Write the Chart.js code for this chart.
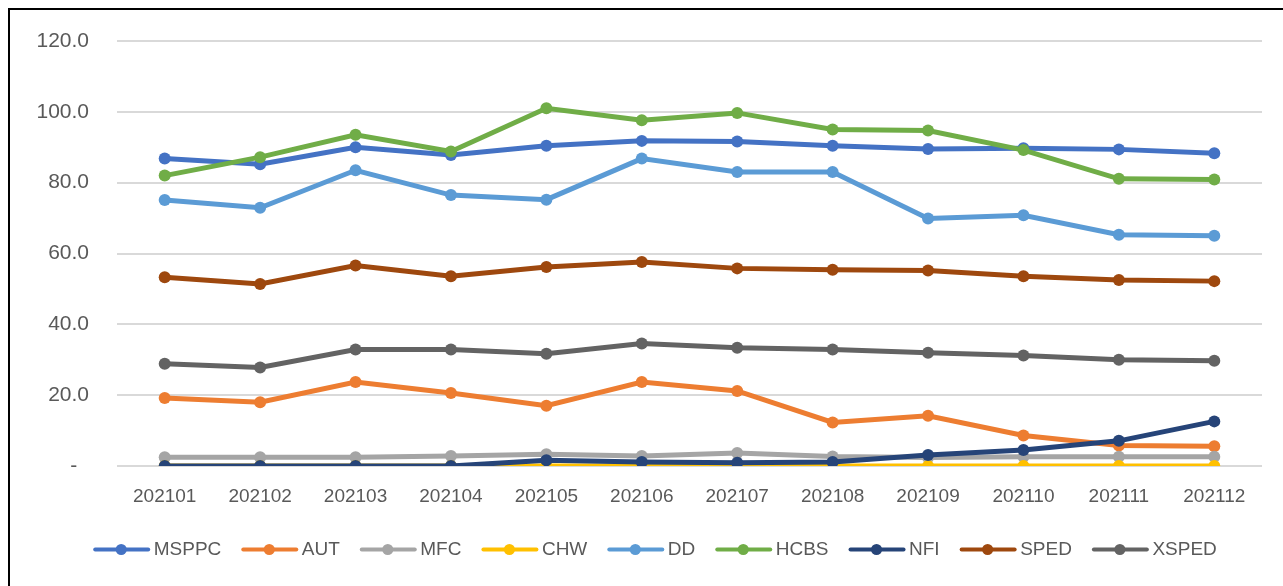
<!DOCTYPE html>
<html>
<head>
<meta charset="utf-8">
<script src="https://cdn.jsdelivr.net/npm/chart.js@4"></script>
<style>
  html, body { margin: 0; padding: 0; background: #fff; overflow: hidden; }
  #frame {
    position: absolute; left: 8px; top: 8px; width: 1300px; height: 600px;
    border-left: 2px solid #000; border-top: 2px solid #000;
  }
  #wrap { position: absolute; left: 10px; top: 10px; width: 1290px; height: 576px; }
</style>
</head>
<body>
<div id="frame"></div>
<div id="wrap"><canvas id="chart"></canvas></div>
<script>
// months on the x axis
const months = ['202101','202102','202103','202104','202105','202106','202107','202108','202109','202110','202111','202112'];

// series values
const MSPPC = [86.8, 85.2, 90.0, 87.8, 90.4, 91.8, 91.6, 90.4, 89.5, 89.7, 89.4, 88.3];
const AUT   = [19.2, 18.0, 23.7, 20.6, 17.0, 23.7, 21.2, 12.3, 14.2, 8.6, 5.8, 5.6];
const MFC   = [2.5, 2.5, 2.5, 2.8, 3.3, 2.8, 3.7, 2.7, 2.4, 2.6, 2.6, 2.6];
const CHW   = [0, 0, 0, 0, 0, 0, 0, 0, 0, 0, 0, 0];
const DD    = [75.1, 72.9, 83.5, 76.5, 75.2, 86.8, 83.0, 83.0, 69.9, 70.8, 65.3, 65.0];
const HCBS  = [82.0, 87.2, 93.5, 88.8, 101.0, 97.6, 99.7, 95.0, 94.7, 89.2, 81.1, 80.9];
const NFI   = [0, 0, 0, 0, 1.6, 1.1, 0.9, 1.1, 3.1, 4.5, 7.1, 12.6];
const SPED  = [53.3, 51.4, 56.6, 53.6, 56.2, 57.6, 55.8, 55.4, 55.2, 53.6, 52.5, 52.2];
const XSPED = [28.9, 27.8, 32.9, 32.9, 31.7, 34.6, 33.4, 32.9, 32.0, 31.2, 30.0, 29.7];

const seriesNames = ['MSPPC','AUT','MFC','CHW','DD','HCBS','NFI','SPED','XSPED'];
const seriesData = [MSPPC, AUT, MFC, CHW, DD, HCBS, NFI, SPED, XSPED];
const seriesColors = ['#4472C4','#ED7D31','#A5A5A5','#FFC000','#5B9BD5','#70AD47','#264478','#9E480E','#636363'];

const yTicks = [0, 20, 40, 60, 80, 100, 120];

const FONT = '"Liberation Sans", Arial, sans-serif';

// Excel style legend marker: a short line with a dot in the middle
const legendMarks = {
  id: 'legendMarks',
  afterDraw(chart) {
    const lg = chart.legend;
    if (!lg || !lg.legendHitBoxes) return;
    const ctx = chart.ctx;
    lg.legendHitBoxes.forEach((hb, i) => {
      const col = seriesColors[lg.legendItems[i].datasetIndex];
      const y = hb.top + hb.height / 2;
      ctx.save();
      ctx.strokeStyle = col;
      ctx.fillStyle = col;
      ctx.lineWidth = 4;
      ctx.lineCap = 'round';
      ctx.beginPath();
      ctx.moveTo(hb.left + 2, y);
      ctx.lineTo(hb.left + 55, y);
      ctx.stroke();
      ctx.beginPath();
      ctx.arc(hb.left + 28, y, 5.5, 0, Math.PI * 2);
      ctx.fill();
      ctx.restore();
    });
  }
};

new Chart(document.getElementById('chart'), {
  type: 'line',
  data: {
    labels: months,
    datasets: seriesNames.map((name, i) => ({
      label: name,
      data: seriesData[i],
      borderColor: seriesColors[i],
      backgroundColor: seriesColors[i],
      pointBackgroundColor: seriesColors[i],
      pointBorderColor: seriesColors[i],
      borderWidth: 5,
      pointRadius: 6,
      pointBorderWidth: 0,
      tension: 0,
      order: -i
    }))
  },
  options: {
    responsive: true,
    maintainAspectRatio: false,
    animation: false,
    layout: { padding: { top: 31, right: 0, bottom: 17, left: 0 } },
    scales: {
      x: {
        offset: true,
        afterFit(scale) { scale.height = 54; },
        grid: { display: false, drawTicks: false },
        border: { display: false },
        ticks: { color: '#595959', font: { family: FONT, size: 19 }, padding: 19, maxRotation: 0 }
      },
      y: {
        min: 0,
        max: 120,
        afterBuildTicks(scale) { scale.ticks = yTicks.map(v => ({ value: v })); },
        afterFit(scale) {
          scale.width = 107;
          // the tick padding is only meant to push labels left, not down
          scale.paddingTop = 0;
          scale.paddingBottom = 0;
        },
        grid: { color: '#D9D9D9', lineWidth: 2, drawTicks: false },
        border: { display: false },
        ticks: {
          color: '#595959',
          font: { family: FONT, size: 21 },
          padding: 28,
          callback: v => v === 0 ? '-  ' : v.toFixed(1)
        }
      },
      // empty right margin so the legend sits a bit right of the plot centre
      yRight: {
        position: 'right',
        min: 0,
        max: 120,
        afterFit(scale) {
          scale.width = 38;
          scale.paddingTop = 0;
          scale.paddingBottom = 0;
        },
        grid: { display: false, drawTicks: false },
        border: { display: false },
        ticks: { display: false }
      }
    },
    plugins: {
      legend: {
        position: 'bottom',
        labels: {
          boxWidth: 51,
          boxHeight: 5,
          color: '#595959',
          font: { family: FONT, size: 19 },
          padding: 20,
          sort: (a, b) => a.datasetIndex - b.datasetIndex,
          generateLabels(chart) {
            const items = Chart.defaults.plugins.legend.labels.generateLabels(chart);
            items.forEach(it => { it.fillStyle = 'rgba(0,0,0,0)'; it.strokeStyle = 'rgba(0,0,0,0)'; it.lineWidth = 0; });
            return items;
          }
        }
      },
      tooltip: { enabled: false }
    }
  },
  plugins: [legendMarks]
});
</script>
</body>
</html>
